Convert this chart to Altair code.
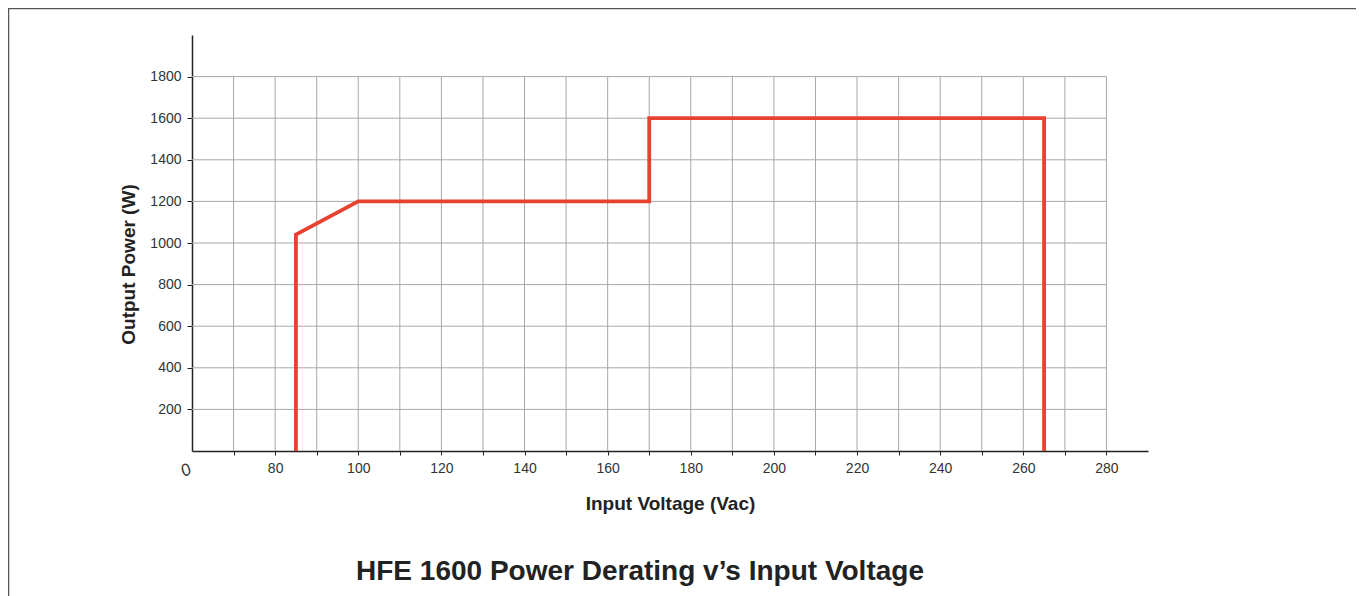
import altair as alt
import pandas as pd

# Derating curve
volts = [85, 85, 100, 170, 170, 265, 265]
power = [0, 1040, 1200, 1200, 1600, 1600, 0]

# Grid / tick positions
x_grid = [70, 80, 90, 100, 110, 120, 130, 140, 150, 160, 170, 180, 190, 200,
          210, 220, 230, 240, 250, 260, 270, 280]
y_grid = [200, 400, 600, 800, 1000, 1200, 1400, 1600, 1800]

FONT = "Liberation Sans"
RED = "#e8412f"
GRID = "#a8a8a8"
AXC = "#222222"

xs = alt.Scale(domain=[60, 290], nice=False, zero=False)
ys = alt.Scale(domain=[0, 2000], nice=False, zero=False)

xaxis = alt.Axis(
    values=x_grid,
    labelExpr="datum.value % 20 == 0 ? datum.label : ''",
    grid=False, tickSize=4, tickColor=AXC, tickWidth=1,
    domainColor=AXC, domainWidth=1.5,
    labelFont=FONT, labelFontSize=14, labelColor="#333333", labelPadding=6,
    title="Input Voltage (Vac)", titleFont=FONT, titleFontSize=19,
    titleFontWeight="bold", titleColor=AXC,
    titleX=478, titleY=52, titleAlign="center", titleBaseline="middle",
)
yaxis = alt.Axis(
    values=y_grid, format="d",
    grid=False, tickSize=5, tickColor=AXC, tickWidth=1,
    domainColor=AXC, domainWidth=1.5,
    labelFont=FONT, labelFontSize=14, labelColor="#333333", labelPadding=6,
    title="Output Power (W)", titleFont=FONT, titleFontSize=19,
    titleFontWeight="bold", titleColor=AXC,
    titleX=-64, titleY=229, titleAngle=270, titleAlign="center",
    titleBaseline="middle",
)

line_df = pd.DataFrame({"v": volts, "p": power, "i": list(range(len(volts)))})
vgrid_df = pd.DataFrame({"v": x_grid, "p0": [0] * len(x_grid), "p1": [1800] * len(x_grid)})
hgrid_df = pd.DataFrame({"p": y_grid, "v0": [60] * len(y_grid), "v1": [280] * len(y_grid)})
origin_df = pd.DataFrame({"v": [60], "p": [0], "t": ["0"]})
frame_df = pd.DataFrame({"k": [0]})

vgrid = alt.Chart(vgrid_df).mark_rule(color=GRID, strokeWidth=1).encode(
    x=alt.X("v:Q", scale=xs, axis=xaxis),
    y=alt.Y("p0:Q", scale=ys, axis=yaxis),
    y2="p1:Q",
)
hgrid = alt.Chart(hgrid_df).mark_rule(color=GRID, strokeWidth=1).encode(
    y=alt.Y("p:Q", scale=ys, axis=yaxis),
    x=alt.X("v0:Q", scale=xs, axis=xaxis),
    x2="v1:Q",
)
curve = alt.Chart(line_df).mark_line(color=RED, strokeWidth=3.8, strokeJoin="miter").encode(
    x=alt.X("v:Q", scale=xs, axis=xaxis),
    y=alt.Y("p:Q", scale=ys, axis=yaxis),
    order="i:O",
)
origin = alt.Chart(origin_df).mark_text(
    font=FONT, fontSize=17, fontStyle="italic", color="#333333",
    dx=-15, dy=14, angle=330
).encode(
    x=alt.X("v:Q", scale=xs, axis=xaxis),
    y=alt.Y("p:Q", scale=ys, axis=yaxis),
    text="t:N",
)
frame = alt.Chart(frame_df).mark_rect(filled=False, stroke="#555555", strokeWidth=1.5).encode(
    x=alt.value(-183.5), x2=alt.value(1300), y=alt.value(-26.5), y2=alt.value(600)
)

chart = alt.layer(frame, vgrid, hgrid, curve, origin).properties(
    width=956,
    height=416,
    autosize=alt.AutoSizeParams(type="none"),
    padding={"left": 184, "top": 27, "right": 208, "bottom": 145},
    title=alt.TitleParams(
        "HFE 1600 Power Derating v\u2019s Input Voltage",
        orient="bottom", anchor="middle", frame="group", baseline="top",
        font=FONT, fontSize=28, fontWeight="bold", color=AXC,
        dx=-30, offset=-78,
    ),
).configure(background="white").configure_view(stroke=None)

chart.save("out.html", embed_options={"renderer": "svg", "actions": False})
